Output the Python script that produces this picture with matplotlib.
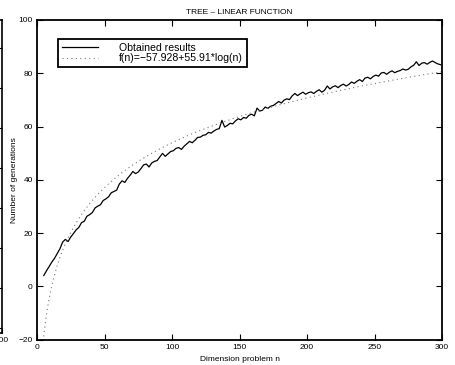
import matplotlib
matplotlib.use("Agg")
import matplotlib.pyplot as plt
import numpy as np

plt.rcParams['font.family'] = ['Liberation Sans', 'DejaVu Sans']

# ---- data ----
n_obtained = list(range(5, 300, 2))
gen_obtained = [
    4.0, 5.8, 7.4, 9.1, 10.5, 12.3, 14.1, 16.6, 17.6, 16.8,
    18.5, 19.8, 21.2, 22.1, 23.9, 24.4, 26.3, 26.9, 27.7, 29.4,
    30.1, 30.6, 32.2, 32.8, 33.6, 35.1, 35.6, 36.1, 38.4, 39.6,
    39.0, 40.5, 41.7, 43.1, 42.3, 42.9, 44.2, 45.6, 45.9, 44.8,
    46.3, 46.9, 47.2, 48.6, 49.9, 48.8, 49.7, 50.6, 50.9, 51.8,
    52.1, 51.4, 52.6, 53.5, 54.4, 53.9, 54.8, 55.9, 56.0, 56.7,
    56.9, 57.8, 57.5, 58.3, 58.9, 59.2, 62.3, 59.8, 60.4, 61.2,
    61.0, 62.1, 62.9, 62.5, 63.4, 63.1, 64.2, 64.6, 64.0, 66.9,
    65.8, 66.1, 67.3, 66.8, 67.6, 67.9, 68.6, 69.4, 68.8, 69.9,
    70.4, 70.1, 71.5, 72.4, 71.6, 72.3, 72.9, 72.1, 72.7, 73.0,
    72.4, 73.2, 73.8, 72.9, 73.6, 75.2, 74.1, 74.9, 75.3, 74.6,
    75.4, 75.9, 75.2, 75.8, 76.7, 76.2, 77.0, 77.6, 76.9, 78.2,
    78.5, 77.9, 78.8, 79.3, 78.9, 80.1, 80.3, 79.6, 80.4, 80.9,
    80.2, 80.7, 81.0, 81.6, 81.2, 81.5, 82.4, 83.0, 84.3, 82.9,
    83.8, 84.0, 83.4, 84.1, 84.6, 84.0, 83.5, 83.2,
]

fit_a = -57.928
fit_b = 55.91
fit_n_start, fit_n_end = 5, 300

title = "TREE \u2013 LINEAR FUNCTION"
xlabel = "Dimension problem n"
ylabel = "Number of generations"
legend_labels = ["Obtained results", "f(n)=\u221257.928+55.91*log(n)"]
xticks = [0, 50, 100, 150, 200, 250, 300]
yticks = [-20, 0, 20, 40, 60, 80, 100]

# ---- figure ----
fig = plt.figure(figsize=(4.55, 3.65), dpi=100)

# cropped neighbour figure at the far left edge
axL = fig.add_axes([-0.5, (365 - 333) / 365, 0.5 + 1.5 / 455, (333 - 20) / 365])
axL.set_xlim(0, 300)
axL.set_ylim(0, 313)
axL.set_xticks([300])
axL.set_xticklabels(["300"])
axL.set_yticks([285 - 40 * k for k in range(8)])
axL.set_yticklabels([])
axL.tick_params(axis='both', direction='in', length=3, labelsize=6, width=0.8,
                right=True, left=False, pad=3)
for s in axL.spines.values():
    s.set_linewidth(1.2)

ax = fig.add_axes([37 / 455, (365 - 339.5) / 365, 405 / 455, 319.5 / 365])
fit_n = np.arange(fit_n_start, fit_n_end + 1)
fit_y = fit_a + fit_b * np.log10(fit_n)

l1, = ax.plot(n_obtained, gen_obtained, color='black', lw=0.9)
l2, = ax.plot(fit_n, fit_y, color='#777777', lw=0.8, linestyle=(0, (1, 3)))

ax.set_xlim(0, 300)
ax.set_ylim(-20, 100)
ax.set_xticks(xticks)
ax.set_yticks(yticks)
ax.tick_params(axis='both', direction='in', length=4, width=0.8, labelsize=6,
               top=True, right=True, pad=3)
for s in ax.spines.values():
    s.set_linewidth(1.3)

ax.set_title(title, fontsize=6, pad=4)
ax.set_xlabel(xlabel, fontsize=6, labelpad=4)
ax.set_ylabel(ylabel, fontsize=6)
ax.yaxis.set_label_coords(-0.047, 0.5)

leg = ax.legend([l1, l2], legend_labels, loc='upper left',
                bbox_to_anchor=(0.052, 0.9405), borderaxespad=0,
                fontsize=7.6, frameon=True, fancybox=False,
                handlelength=3.4, handletextpad=2.0, labelspacing=0.02,
                borderpad=0.38)
fr = leg.get_frame()
fr.set_edgecolor('black')
fr.set_linewidth(1.3)
fr.set_alpha(1)

fig.savefig("out.png", dpi=100)
